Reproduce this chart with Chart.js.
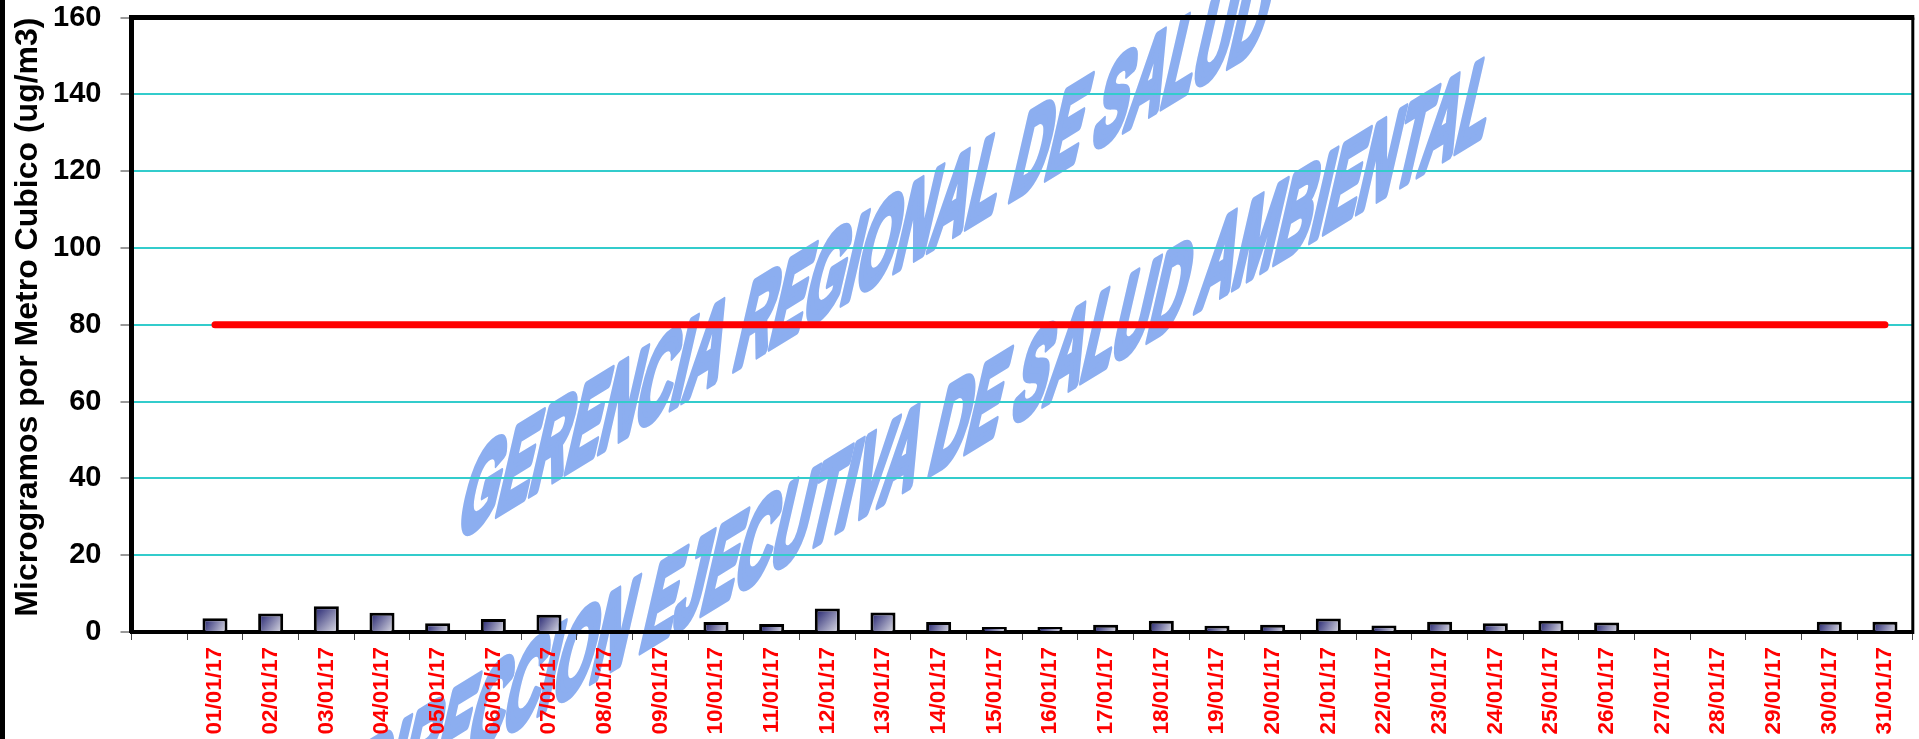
<!DOCTYPE html>
<html>
<head>
<meta charset="utf-8">
<script src="https://cdn.jsdelivr.net/npm/chart.js@4/dist/chart.umd.min.js"></script>
<style>
html,body{margin:0;padding:0;background:#fff;overflow:hidden}
#wrap{position:relative;width:1919px;height:739px}
</style>
</head>
<body>
<div id="wrap"><canvas id="c"></canvas></div>
<script>
// ---- data ----
const categories = ['', '01/01/17','02/01/17','03/01/17','04/01/17','05/01/17','06/01/17','07/01/17','08/01/17','09/01/17','10/01/17',
  '11/01/17','12/01/17','13/01/17','14/01/17','15/01/17','16/01/17','17/01/17','18/01/17','19/01/17','20/01/17',
  '21/01/17','22/01/17','23/01/17','24/01/17','25/01/17','26/01/17','27/01/17','28/01/17','29/01/17','30/01/17','31/01/17'];
const pm10Values = [null, 3.6, 4.8, 6.7, 5.0, 2.3, 3.4, 4.5, null, null, 2.6,
  2.1, 6.1, 5.1, 2.6, 1.3, 1.3, 1.9, 2.9, 1.6, 1.9,
  3.5, 1.7, 2.7, 2.3, 2.9, 2.5, null, null, null, 2.7, 2.7];
const limitValues = [null, 80, 80, 80, 80, 80, 80, 80, 80, 80, 80,
  80, 80, 80, 80, 80, 80, 80, 80, 80, 80,
  80, 80, 80, 80, 80, 80, 80, 80, 80, 80, 80];
const yMin = 0, yMax = 160, yStep = 20;
const yTitle = 'Microgramos por Metro Cubico (ug/m3)';
const watermarkLines = ['GERENCIA REGIONAL DE SALUD', 'DIRECCION EJECUTIVA DE SALUD AMBIENTAL'];

const FONT = '"Liberation Sans", Arial, sans-serif';
const BAR_PCT = 0.45;

function barGradient(c) {
  const chart = c.chart;
  const xs = chart.scales && chart.scales.x, ys = chart.scales && chart.scales.y;
  if (!xs || !ys || c.dataIndex == null || c.raw == null || !xs.width) return '#444477';
  const cx = xs.getPixelForValue(c.dataIndex);
  const half = xs.width / categories.length * BAR_PCT / 2;
  const top = ys.getPixelForValue(c.raw), bot = ys.getPixelForValue(0);
  const g = chart.ctx.createLinearGradient(cx - half, top, cx + half, bot);
  g.addColorStop(0, '#1a1a6a');
  g.addColorStop(1, '#e2e2e8');
  return g;
}

const watermarkPlugin = {
  id: 'watermark',
  beforeDraw(chart) {
    const ctx = chart.ctx;
    const th = 31.5 * Math.PI / 180, la = 13 * Math.PI / 180, s = 0.455;
    ctx.save();
    ctx.fillStyle = 'rgb(140,174,240)';
    ctx.strokeStyle = 'rgb(140,174,240)';
    ctx.lineJoin = 'round';
    ctx.lineWidth = 10;
    ctx.font = 'bold 128px ' + FONT;
    ctx.textBaseline = 'alphabetic';
    ctx.textAlign = 'left';
    const draw = (txt, x, y) => {
      ctx.save();
      ctx.translate(x, y);
      ctx.transform(Math.cos(th) * s, -Math.sin(th) * s, -Math.sin(la), Math.cos(la), 0, 0);
      ctx.fillText(txt, 0, 0);
      ctx.strokeText(txt, 0, 0);
      ctx.restore();
    };
    draw(watermarkLines[0], 455, 540);
    draw(watermarkLines[1], 345, 832);
    ctx.restore();
  }
};

const framePlugin = {
  id: 'frame',
  afterDraw(chart) {
    const {ctx, chartArea: a} = chart;
    ctx.save();
    ctx.fillStyle = '#000';
    ctx.fillRect(0, 0, 5, chart.height);
    ctx.strokeStyle = '#000';
    ctx.lineWidth = 5;
    ctx.beginPath();
    ctx.moveTo(a.left - 2.5, a.top);
    ctx.lineTo(a.right + 1.5, a.top);
    ctx.stroke();
    ctx.lineWidth = 3;
    ctx.beginPath();
    ctx.moveTo(a.right, a.top);
    ctx.lineTo(a.right, a.bottom + 2);
    ctx.stroke();
    ctx.restore();
  }
};

new Chart(document.getElementById('c'), {
  data: {
    labels: categories,
    datasets: [
      {
        type: 'line',
        label: 'Limite',
        data: limitValues,
        borderColor: '#ff0000',
        borderWidth: 7,
        borderCapStyle: 'round',
        pointRadius: 0,
        fill: false,
        order: 0
      },
      {
        type: 'bar',
        label: 'PM10',
        data: pm10Values,
        backgroundColor: barGradient,
        borderColor: '#000',
        borderWidth: 3,
        barPercentage: BAR_PCT,
        categoryPercentage: 1.0,
        order: 1
      }
    ]
  },
  options: {
    responsive: true,
    maintainAspectRatio: false,
    animation: false,
    layout: { padding: { left: 5, right: 2, top: 17.5, bottom: 0 } },
    plugins: { legend: { display: false }, tooltip: { enabled: false } },
    scales: {
      x: {
        offset: true,
        afterFit(s) { s.height = 107; },
        grid: { display: true, drawOnChartArea: false, offset: true, tickLength: 8, tickColor: '#444', tickWidth: 1 },
        border: { display: true, color: '#000', width: 4 },
        ticks: {
          color: '#ff0000',
          font: { family: FONT, size: 22.5, weight: 'bold' },
          minRotation: 90, maxRotation: 90, autoSkip: false, padding: 7
        }
      },
      y: {
        min: yMin, max: yMax,
        afterFit(s) { s.width = 126.5; s.paddingTop = 0; s.paddingBottom = 0; },
        grid: { color: '#33cccc', lineWidth: 2, tickLength: 11, tickColor: '#333', tickWidth: 1 },
        border: { display: true, color: '#000', width: 5 },
        ticks: {
          stepSize: yStep,
          color: '#000',
          padding: 19,
          font: { family: FONT, size: 29, weight: 'bold' }
        },
        title: {
          display: true,
          text: yTitle,
          align: 'end',
          color: '#000',
          padding: { top: 4, bottom: 0 },
          font: { family: FONT, size: 32, weight: 'bold' }
        }
      }
    }
  },
  plugins: [watermarkPlugin, framePlugin]
});
</script>
</body>
</html>
